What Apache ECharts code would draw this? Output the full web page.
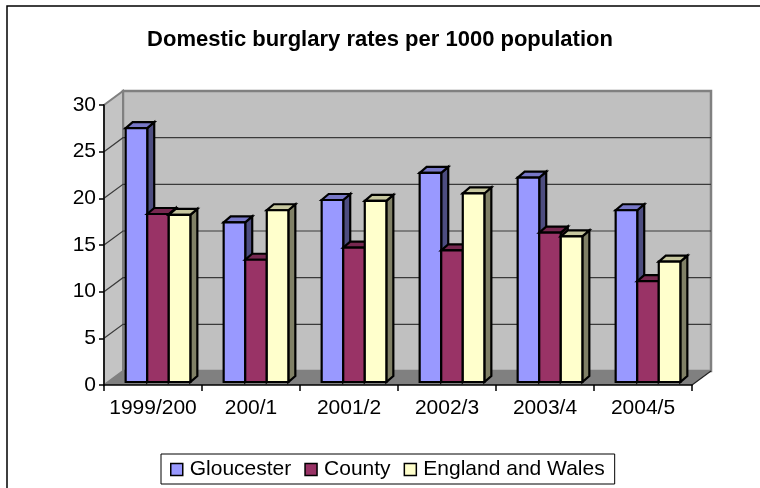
<!DOCTYPE html>
<html>
<head>
<meta charset="utf-8">
<script src="https://cdn.jsdelivr.net/npm/echarts@6/dist/echarts.min.js"></script>
<style>
html,body{margin:0;padding:0;background:#fff;}
#c{width:760px;height:488px;}
</style>
</head>
<body>
<div id="c"></div>
<script>
// ---- data ----
const categories = ['1999/200', '200/1', '2001/2', '2002/3', '2003/4', '2004/5'];
const seriesNames = ['Gloucester', 'County', 'England and Wales'];
const gloucester = [27.2, 17.1, 19.5, 22.4, 21.9, 18.4];
const county = [18.0, 13.1, 14.4, 14.1, 16.0, 10.8];
const englandWales = [17.9, 18.4, 19.4, 20.2, 15.6, 12.9];
const yTicks = [0, 5, 10, 15, 20, 25, 30];

// ---- style ----
const FONT = '"Liberation Sans", Arial, sans-serif';
const colors = ['#9999FF', '#993366', '#FFFFCC'];
const WALL_DX = 19, WALL_DY = -14;   // depth of plot box
const BAR_DX = 7, BAR_DY = -6;       // depth of each bar
const BAR_SHIFT_X = 5, BAR_SHIFT_Y = -3;
const BAR_FRAC = 0.22;

function shade(hex, f) {
  const n = parseInt(hex.slice(1), 16);
  const r = Math.round(((n >> 16) & 255) * f);
  const g = Math.round(((n >> 8) & 255) * f);
  const b = Math.round((n & 255) * f);
  return 'rgb(' + r + ',' + g + ',' + b + ')';
}

const yMax = yTicks[yTicks.length - 1];

function wallRender(params, api) {
  const catW = api.size([1, 0])[0];
  const x0 = api.coord([0, 0])[0] - catW / 2;
  const x1 = api.coord([categories.length - 1, 0])[0] + catW / 2;
  const y = v => api.coord([0, v])[1];
  const y0 = y(0), yT = y(yMax);
  const children = [];
  children.push({
    type: 'polygon',
    shape: { points: [[x0 + WALL_DX, yT + WALL_DY], [x1 + WALL_DX, yT + WALL_DY], [x1 + WALL_DX, y0 + WALL_DY], [x0 + WALL_DX, y0 + WALL_DY]] },
    style: { fill: '#C0C0C0', stroke: '#808080', lineWidth: 2.5 }
  });
  children.push({
    type: 'polygon',
    shape: { points: [[x0, y0], [x0, yT], [x0 + WALL_DX, yT + WALL_DY], [x0 + WALL_DX, y0 + WALL_DY]] },
    style: { fill: '#C4C4C4', stroke: '#808080', lineWidth: 2 }
  });
  yTicks.forEach(v => {
    if (v === 0 || v === yMax) return;
    const yy = y(v);
    children.push({
      type: 'polyline',
      shape: { points: [[x0, yy], [x0 + WALL_DX, yy + WALL_DY], [x1 + WALL_DX, yy + WALL_DY]] },
      style: { fill: null, stroke: '#3a3a3a', lineWidth: 1.2 }
    });
  });
  children.push({
    type: 'polygon',
    shape: { points: [[x0, y0], [x1, y0], [x1 + WALL_DX, y0 + WALL_DY], [x0 + WALL_DX, y0 + WALL_DY]] },
    style: { fill: '#808080', stroke: null }
  });
  children.push({
    type: 'polyline',
    shape: { points: [[x1, y0], [x1 + WALL_DX, y0 + WALL_DY]] },
    style: { fill: null, stroke: '#222', lineWidth: 1.2 }
  });
  return { type: 'group', children: children };
}

function makeBarRender(sIdx) {
  const base = colors[sIdx];
  const topC = shade(base, 0.78);
  const sideC = shade(base, 0.5);
  return function (params, api) {
    const i = api.value(0), v = api.value(1);
    const c = api.coord([i, v]);
    const c0 = api.coord([i, 0]);
    const catW = api.size([1, 0])[0];
    const bw = catW * BAR_FRAC;
    const x = c[0] - 1.5 * bw + sIdx * bw + BAR_SHIFT_X;
    const yt = c[1] + BAR_SHIFT_Y;
    const yb = c0[1] + BAR_SHIFT_Y;
    const ls = { stroke: '#000', lineWidth: 2.2, lineJoin: 'miter' };
    return {
      type: 'group',
      children: [
        { type: 'polygon', shape: { points: [[x + bw, yt], [x + bw + BAR_DX, yt + BAR_DY], [x + bw + BAR_DX, yb + BAR_DY], [x + bw, yb]] },
          style: Object.assign({ fill: sideC }, ls) },
        { type: 'polygon', shape: { points: [[x, yt], [x + bw, yt], [x + bw + BAR_DX, yt + BAR_DY], [x + BAR_DX, yt + BAR_DY]] },
          style: Object.assign({ fill: topC }, ls) },
        { type: 'rect', shape: { x: x, y: yt, width: bw, height: yb - yt },
          style: Object.assign({ fill: base }, ls) }
      ]
    };
  };
}

const dataSets = [gloucester, county, englandWales];

const chart = echarts.init(document.getElementById('c'), null, { renderer: 'canvas' });
const series = [{
  name: 'walls', type: 'custom', renderItem: wallRender, data: [[0, 0]],
  encode: { x: 0, y: 1 }, clip: false, z: 1, silent: true
}];
dataSets.forEach((arr, s) => {
  series.push({
    name: seriesNames[s], type: 'custom', renderItem: makeBarRender(s),
    data: arr.map((v, i) => [i, v]), encode: { x: 0, y: 1 }, clip: false, z: 3 + s,
    itemStyle: { color: colors[s], borderColor: '#000', borderWidth: 1.5 }
  });
});

chart.setOption({
  animation: false,
  backgroundColor: '#fff',
  title: {
    text: 'Domestic burglary rates per 1000 population',
    left: 'center', top: 24,
    textStyle: { fontFamily: FONT, fontSize: 22, fontWeight: 'bold', color: '#000' }
  },
  grid: { left: 104, right: 68, top: 105, bottom: 103, containLabel: false },
  xAxis: {
    type: 'category', data: categories, z: 10,
    axisLine: { lineStyle: { color: '#000', width: 1.5 } },
    axisTick: { show: true, length: 6, interval: 0, lineStyle: { color: '#000', width: 1.5 } },
    axisLabel: { interval: 0, fontFamily: FONT, fontSize: 21, color: '#000', margin: 13 },
    splitLine: { show: false }
  },
  yAxis: {
    type: 'value', min: 0, max: yMax, interval: 5, z: 10,
    axisLine: { show: true, lineStyle: { color: '#000', width: 1.5 } },
    axisTick: { show: true, length: 5, lineStyle: { color: '#000', width: 1.5 } },
    axisLabel: { fontFamily: FONT, fontSize: 21, color: '#000', margin: 8 },
    splitLine: { show: false }
  },
  legend: {
    data: seriesNames,
    left: 161, top: 454,
    orient: 'horizontal',
    icon: 'rect',
    itemWidth: 12, itemHeight: 12, itemGap: 13,
    padding: [5, 10, 4, 9],
    borderColor: '#000', borderWidth: 1,
    backgroundColor: '#fff',
    itemStyle: { borderColor: '#000', borderWidth: 1.5 },
    textStyle: { fontFamily: FONT, fontSize: 21, color: '#000', padding: [0, 0, 0, 2] }
  },
  graphic: [{
    type: 'rect', silent: true, z: 100,
    shape: { x: 7, y: 6, width: 800, height: 520 },
    style: { fill: null, stroke: '#000', lineWidth: 1.5 }
  }],
  series: series
});
</script>
</body>
</html>
